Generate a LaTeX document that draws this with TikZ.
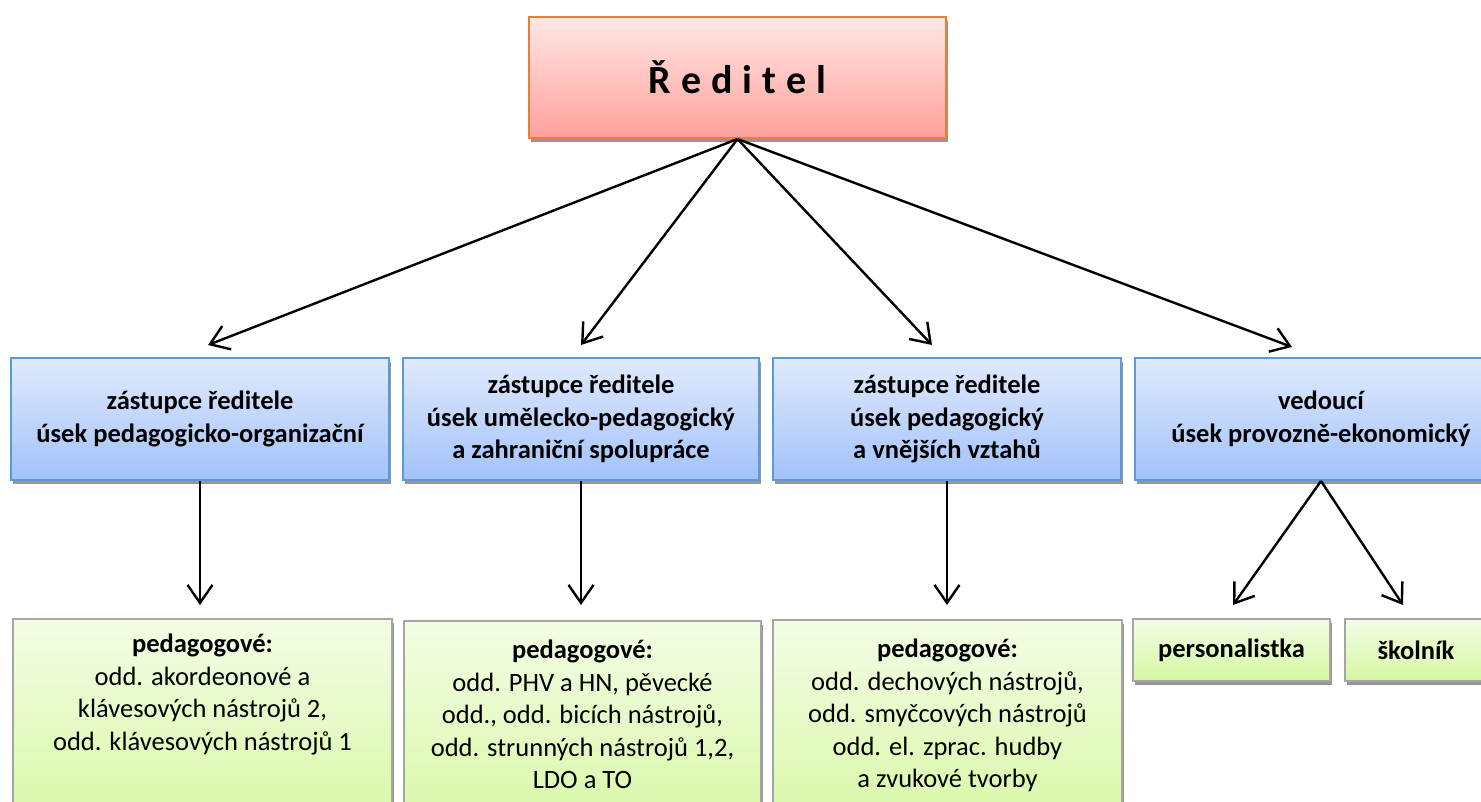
\documentclass[tikz,border=0pt]{standalone}
\usepackage{fontspec}
\setmainfont{Carlito}
\usetikzlibrary{arrows.meta,shadows}

\definecolor{bossTop}{RGB}{255,232,231}
\definecolor{bossBot}{RGB}{255,160,154}
\definecolor{bossLine}{RGB}{237,125,49}
\definecolor{deputyTop}{RGB}{224,234,253}
\definecolor{deputyBot}{RGB}{162,194,250}
\definecolor{deputyLine}{RGB}{91,155,213}
\definecolor{staffTop}{RGB}{244,253,229}
\definecolor{staffBot}{RGB}{214,247,162}
\definecolor{staffLine}{RGB}{165,165,165}
\definecolor{shadowGray}{RGB}{150,150,150}

\newcommand{\lsp}{\hspace{10pt}}

\tikzset{
  box/.style={draw, line width=2pt, anchor=north west, inner sep=0pt,
    align=center, font=\fontsize{26.5}{32.5}\selectfont,
    drop shadow={shadow xshift=1.5pt, shadow yshift=-3.5pt,
      fill=shadowGray, opacity=1}},
  boss/.style={box, draw=bossLine, top color=bossTop, bottom color=bossBot},
  deputy/.style={box, draw=deputyLine, top color=deputyTop,
    bottom color=deputyBot, minimum height=122pt,
    font=\fontsize{26.5}{32.5}\selectfont\bfseries},
  staff/.style={box, draw=staffLine, top color=staffTop, bottom color=staffBot},
  stafftext/.style={anchor=north, inner sep=0pt, align=center,
    font=\fontsize{26.5}{32.5}\selectfont},
  arr/.style={line width=2.4pt, -{Straight Barb[length=18pt,width=25pt]}}
}

\begin{document}
\begin{tikzpicture}[x=1pt, y=-1pt]
\useasboundingbox (0,0) rectangle (1481,801);
%director
\node[boss, minimum width=417pt, minimum height=121pt] (boss) at (528,16)
     {\fontsize{40}{44}\selectfont\bfseries Ř\lsp e\lsp d\lsp i\lsp t\lsp e\lsp l};
%deputies
\node[deputy, minimum width=378pt] (zv1) at (10,357)
     {zástupce ředitele\\úsek pedagogicko-organizační};
\node[deputy, minimum width=356pt] (zv2) at (402,357)
     {zástupce ředitele\\úsek umělecko-pedagogický\\a zahraniční spolupráce};
\node[deputy, minimum width=348pt] (zv3) at (772,357)
     {zástupce ředitele\\úsek pedagogický\\a vnějších vztahů};
\node[deputy, minimum width=372pt] (ved) at (1134,357)
     {vedoucí\\úsek provozně-ekonomický};
%teachers
\node[staff, minimum width=379pt, minimum height=220pt] (ped1) at (12,618) {};
\node[staff, minimum width=357pt, minimum height=220pt] (ped2) at (403,620) {};
\node[staff, minimum width=349pt, minimum height=220pt] (ped3) at (772,619) {};
\node[stafftext] (ped1t) at ([yshift=-16pt]ped1.north)
     {\textbf{pedagogové:}\\odd. akordeonové a\\klávesových nástrojů 2,\\odd. klávesových nástrojů 1};
\node[stafftext] (ped2t) at ([yshift=-20pt]ped2.north)
     {\textbf{pedagogové:}\\odd. PHV a HN, pěvecké\\odd., odd. bicích nástrojů,\\odd. strunných nástrojů 1,2,\\LDO a TO};
\node[stafftext] (ped3t) at ([yshift=-20pt]ped3.north)
     {\textbf{pedagogové:}\\odd. dechových nástrojů,\\odd. smyčcových nástrojů\\odd. el. zprac. hudby\\a zvukové tvorby};
%other staff
\node[staff, minimum width=197pt, minimum height=62pt,
      font=\fontsize{26.5}{32.5}\selectfont\bfseries] (pers) at (1132,618) {personalistka};
\node[staff, minimum width=142pt, minimum height=62pt,
      font=\fontsize{26.5}{32.5}\selectfont\bfseries] (skol) at (1344,618) {školník};
%arrow ends
\coordinate (t1) at (208,345);
\coordinate (t2) at (581,345);
\coordinate (t3) at (932,345);
\coordinate (t4) at (1292,347);
\coordinate (t5) at (1233,605);
\coordinate (t6) at (1403,605);
%arrows
\draw[arr] (boss.south) -- (t1);
\draw[arr] (boss.south) -- (t2);
\draw[arr] (boss.south) -- (t3);
\draw[arr] (boss.south) -- (t4);
\draw[arr, shorten >=13pt] (zv1.south) -- (zv1.south |- ped1.north);
\draw[arr, shorten >=13pt] (zv2.south) -- (zv2.south |- ped1.north);
\draw[arr, shorten >=13pt] (zv3.south) -- (zv3.south |- ped1.north);
\draw[arr] (ved.south) -- (t5);
\draw[arr] (ved.south) -- (t6);
\end{tikzpicture}
\end{document}
